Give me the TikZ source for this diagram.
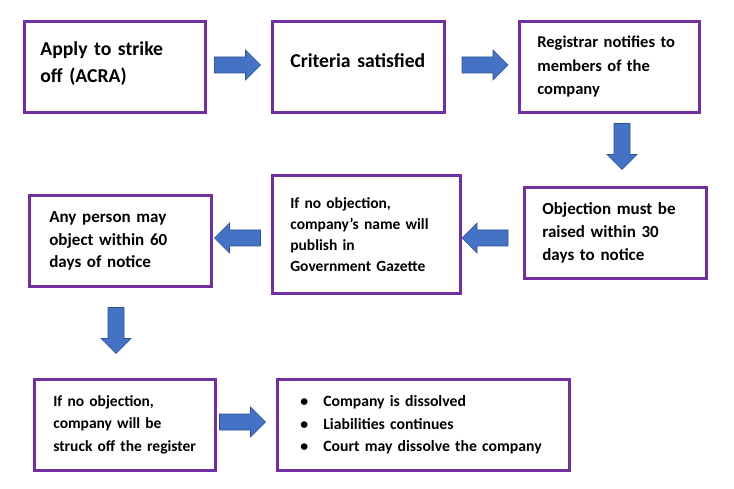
\documentclass[tikz,border=0pt]{standalone}
\usepackage{fontspec}
\setmainfont{Carlito}
\usetikzlibrary{calc}
\definecolor{boxpurple}{HTML}{7030A0}
\definecolor{arrowblue}{HTML}{4472C4}
\definecolor{arrowedge}{HTML}{2F528F}
\tikzset{
  stepbox/.style={draw=boxpurple, line width=2.7pt, fill=white, anchor=north west,
    inner xsep=15pt, inner ysep=0pt, align=left},
  arrowbody/.style={fill=arrowblue, draw=arrowedge, line width=0.6pt}
}
% block arrow: centre, angle
\newcommand{\blockarrow}[2]{%
  \filldraw[arrowbody, shift={(#1)}, rotate=#2]
    (-23,-8) -- (8,-8) -- (8,-15) -- (23,0) -- (8,15) -- (8,8) -- (-23,8) -- cycle;}
\begin{document}
\begin{tikzpicture}[x=1pt,y=-1pt]
            \fill[white] (0,0) rectangle (734,489);
            \useasboundingbox (0,0) rectangle (734,489);
            % top row
            \node[stepbox, text width=151pt, minimum height=91pt,
              font=\bfseries\fontsize{19.7}{26.5}\selectfont] (apply) at (23,20)
              {\hspace*{1pt}Apply to strike\\\hspace*{1pt}off (ACRA)\rule[-10pt]{0pt}{10pt}};
            \node[stepbox, text width=142pt, minimum height=91pt,
              font=\bfseries\fontsize{19.7}{26.5}\selectfont] (criteria) at (271,20)
              {\hspace*{3pt}Criteria satisfied\rule[-12pt]{0pt}{12pt}};
            \node[stepbox, text width=150pt, minimum height=91pt,
              font=\bfseries\fontsize{16.5}{23.5}\selectfont] (notify) at (518,20)
              {\hspace*{3pt}Registrar notifies to\\\hspace*{3pt}members of the\\\hspace*{3pt}company};
            % middle row
            \node[stepbox, text width=152pt, minimum height=91pt,
              font=\bfseries\fontsize{17}{23}\selectfont] (raise) at (523,186)
              {\hspace*{3pt}Objection must be\\\hspace*{3pt}raised within 30\\\hspace*{3pt}days to notice};
            \node[stepbox, text width=158pt, minimum height=118pt,
              font=\bfseries\fontsize{15.5}{21}\selectfont] (gazette) at (271,174)
              {\hspace*{3pt}If no objection,\\\hspace*{3pt}company’s name will\\\hspace*{3pt}publish in\\\hspace*{3pt}Government Gazette};
            \node[stepbox, text width=152pt, minimum height=91pt,
              font=\bfseries\fontsize{17}{22.5}\selectfont] (anyone) at (28,194)
              {\hspace*{5pt}Any person may\\\hspace*{5pt}object within 60\\\hspace*{5pt}days of notice};
            % bottom row
            \node[stepbox, text width=151pt, minimum height=91pt,
              font=\bfseries\fontsize{15.5}{22.5}\selectfont] (struck) at (33,378)
              {\hspace*{4pt}If no objection,\\\hspace*{4pt}company will be\\\hspace*{4pt}struck off the register};
            \node[stepbox, text width=262pt, minimum height=91pt,
              font=\bfseries\fontsize{15.7}{22.5}\selectfont] (result) at (276,378)
              {\hspace*{8pt}\makebox[23pt][l]{\textbullet}Company is dissolved\\
               \hspace*{8pt}\makebox[23pt][l]{\textbullet}Liabilities continues\\
               \hspace*{8pt}\makebox[23pt][l]{\textbullet}Court may dissolve the company};
            % arrows between the boxes
            \coordinate (a1) at (237.5,65);
            \coordinate (a2) at (485,65);
            \coordinate (a3) at (622,146.5);
            \coordinate (a4) at (485,238);
            \coordinate (a5) at (237.5,238);
            \coordinate (a6) at (116,330.5);
            \coordinate (a7) at (242.5,422);
            \blockarrow{a1}{0}
            \blockarrow{a2}{0}
            \blockarrow{a3}{-90}
            \blockarrow{a4}{180}
            \blockarrow{a5}{180}
            \blockarrow{a6}{-90}
            \blockarrow{a7}{0}
        \end{tikzpicture}
\end{document}
